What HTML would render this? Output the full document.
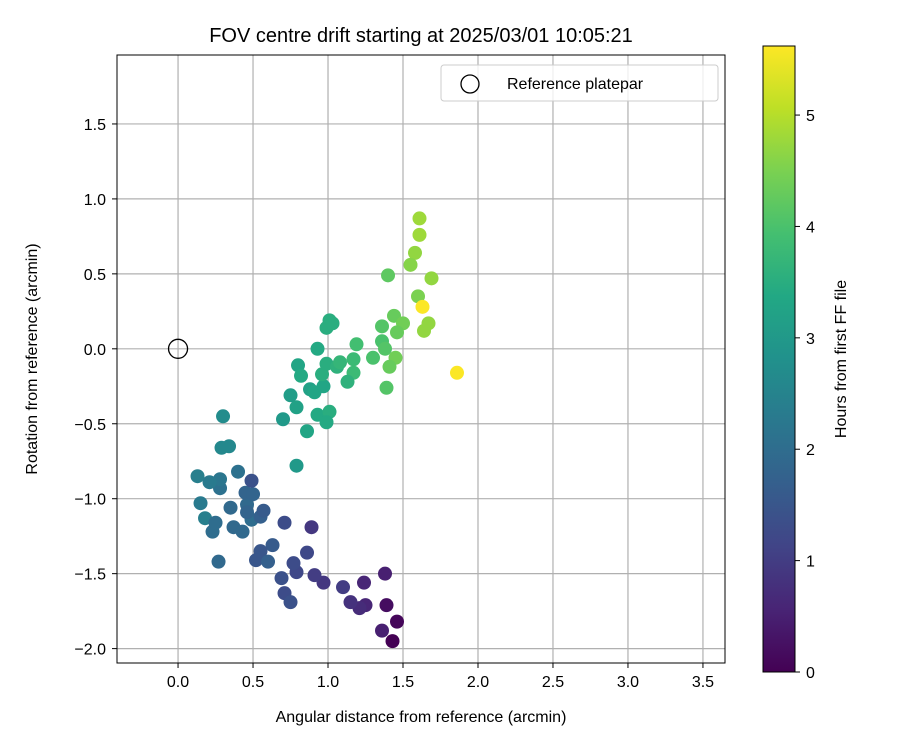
<!DOCTYPE html>
<html><head><meta charset="utf-8"><style>
html,body{margin:0;padding:0;background:#fff}
svg{display:block;font-family:"Liberation Sans","DejaVu Sans",sans-serif}
</style></head><body>
<svg id="c" width="900" height="750" viewBox="0 0 900 750">
<defs>
<linearGradient id="vir" x1="0" y1="1" x2="0" y2="0">
<stop offset="0" stop-color="#440154"/><stop offset="0.1" stop-color="#482475"/><stop offset="0.2" stop-color="#414487"/><stop offset="0.3" stop-color="#355f8d"/><stop offset="0.4" stop-color="#2a788e"/><stop offset="0.5" stop-color="#21918c"/><stop offset="0.6" stop-color="#22a884"/><stop offset="0.7" stop-color="#44bf70"/><stop offset="0.8" stop-color="#7ad151"/><stop offset="0.9" stop-color="#bddf26"/><stop offset="1" stop-color="#fde725"/>
</linearGradient>
</defs>
<text x="421" y="42" text-anchor="middle" font-size="20">FOV centre drift starting at 2025/03/01 10:05:21</text>
<g id="grid"></g>
<g id="pts"></g>
<rect x="117" y="55" width="608" height="608" fill="none" stroke="#000" stroke-width="1"/>
<g id="ticks"></g>
<text x="421" y="722" text-anchor="middle" font-size="16">Angular distance from reference (arcmin)</text>
<text transform="translate(37,359) rotate(-90)" text-anchor="middle" font-size="16">Rotation from reference (arcmin)</text>
<g>
<rect x="441" y="65" width="277" height="36" rx="3" fill="#fff" fill-opacity="0.8" stroke="#ccc"/>
<circle cx="470" cy="84" r="9" fill="none" stroke="#000" stroke-width="1.3"/>
<text x="507" y="89" font-size="16">Reference platepar</text>
</g>
<rect x="763" y="46" width="32" height="626" fill="url(#vir)" stroke="#000" stroke-width="1"/>
<g id="cbt"></g>
<text transform="translate(846,359) rotate(-90)" text-anchor="middle" font-size="16">Hours from first FF file</text>
</svg>
<script>
const xs=[1.43,1.46,1.36,1.39,1.38,1.24,1.25,1.21,1.15,1.10,0.97,0.91,0.79,0.86,0.89,0.71,0.77,0.69,0.71,0.75,0.63,0.55,0.52,0.60,0.27,0.23,0.37,0.43,0.18,0.25,0.49,0.55,0.15,0.35,0.46,0.57,0.46,0.45,0.50,0.49,0.40,0.28,0.28,0.21,0.13,0.29,0.34,0.30,0.79,0.70,0.86,0.79,0.75,0.93,1.01,0.99,0.88,0.91,0.97,0.96,0.80,0.82,0.99,1.06,1.08,1.17,1.17,1.13,0.93,1.01,0.99,1.03,1.19,1.36,1.38,1.30,1.45,1.41,1.39,1.36,1.44,1.50,1.46,1.40,1.61,1.61,1.58,1.55,1.69,1.60,1.63,1.67,1.64,1.86];
const ys=[-1.95,-1.82,-1.88,-1.71,-1.50,-1.56,-1.71,-1.73,-1.69,-1.59,-1.56,-1.51,-1.49,-1.36,-1.19,-1.16,-1.43,-1.53,-1.63,-1.69,-1.31,-1.35,-1.41,-1.42,-1.42,-1.22,-1.19,-1.22,-1.13,-1.16,-1.14,-1.12,-1.03,-1.06,-1.04,-1.08,-1.09,-0.96,-0.97,-0.88,-0.82,-0.93,-0.87,-0.89,-0.85,-0.66,-0.65,-0.45,-0.78,-0.47,-0.55,-0.39,-0.31,-0.44,-0.42,-0.49,-0.27,-0.29,-0.25,-0.17,-0.11,-0.18,-0.10,-0.12,-0.09,-0.07,-0.16,-0.22,0.00,0.19,0.14,0.17,0.03,0.05,0.00,-0.06,-0.06,-0.12,-0.26,0.15,0.22,0.17,0.11,0.49,0.87,0.76,0.64,0.56,0.47,0.35,0.28,0.17,0.12,-0.16];
const hours=[0.0,0.1,0.5,0.2,0.5,0.6,0.6,0.7,0.8,1.0,0.9,1.0,1.2,1.2,0.9,1.3,1.3,1.4,1.3,1.4,1.6,1.5,1.5,1.7,1.9,2.0,1.9,1.9,2.4,2.0,2.0,1.7,2.3,1.9,1.9,1.6,1.8,1.8,1.8,1.4,2.1,2.1,2.2,2.3,2.4,2.6,2.6,2.7,3.0,3.0,3.3,3.2,3.1,3.4,3.5,3.4,3.2,3.3,3.3,3.5,3.3,3.4,3.5,3.6,3.7,3.8,3.8,3.6,3.4,3.5,3.5,3.5,3.9,4.0,4.1,4.0,4.4,4.3,4.1,4.1,4.3,4.4,4.3,4.2,4.8,4.8,4.7,4.6,4.7,4.5,5.6,4.7,4.7,5.6];
const xTicks=[0.0,0.5,1.0,1.5,2.0,2.5,3.0,3.5];
const yTicks=[-2.0,-1.5,-1.0,-0.5,0.0,0.5,1.0,1.5];
const cTicks=[0,1,2,3,4,5];
const refPoint=[0,0];
const X0=117,X1=725,Y0=55,Y1=663,xmin=-0.407,xmax=3.647,ymin=-2.096,ymax=1.96;
const cmax=5.62;
const sx=v=>X0+(v-xmin)/(xmax-xmin)*(X1-X0);
const sy=v=>Y1-(v-ymin)/(ymax-ymin)*(Y1-Y0);
const sc=v=>672-v/cmax*626;
const NS="http://www.w3.org/2000/svg";
function mk(t,a,p){const e=document.createElementNS(NS,t);for(const k in a)e.setAttribute(k,a[k]);p.appendChild(e);return e;}
const stops=[[68,1,84],[72,36,117],[65,68,135],[53,95,141],[42,120,142],[33,145,140],[34,168,132],[68,191,112],[122,209,81],[189,223,38],[253,231,37]];
function vir(t){t=Math.max(0,Math.min(1,t))*10;const i=Math.min(9,Math.floor(t)),f=t-i;const a=stops[i],b=stops[i+1];return `rgb(${a.map((v,k)=>Math.round(v+(b[k]-v)*f)).join(',')})`;}
const grid=document.getElementById('grid'),tk=document.getElementById('ticks'),pts=document.getElementById('pts'),cbt=document.getElementById('cbt');
xTicks.forEach(v=>{const x=sx(v);
const g=mk('line',{x1:x,x2:x,y1:Y0,y2:Y1,stroke:'#b0b0b0','stroke-width':1.2},grid);


mk('line',{x1:x,x2:x,y1:Y1,y2:Y1+5,stroke:'#000'},tk);
const t=mk('text',{x:x,y:Y1+24,'text-anchor':'middle','font-size':16},tk);t.textContent=v.toFixed(1);

});
yTicks.forEach(v=>{const y=sy(v);
const g=mk('line',{x1:X0,x2:X1,y1:y,y2:y,stroke:'#b0b0b0','stroke-width':1.2},grid);


mk('line',{x1:X0-5,x2:X0,y1:y,y2:y,stroke:'#000'},tk);
const t=mk('text',{x:X0-11,y:y+6,'text-anchor':'end','font-size':16},tk);t.textContent=(v<0?'\u2212':'')+Math.abs(v).toFixed(1);

});
hours.forEach((h,i)=>{const c=mk('circle',{cx:sx(xs[i]),cy:sy(ys[i]),r:7,fill:vir(h/cmax)},pts);

});
const rc=mk('circle',{cx:sx(refPoint[0]),cy:sy(refPoint[1]),r:9.5,fill:'none',stroke:'#000','stroke-width':1.3},pts);


cTicks.forEach(v=>{const y=sc(v);
mk('line',{x1:795,x2:800,y1:y,y2:y,stroke:'#000'},cbt);
const t=mk('text',{x:806,y:y+6,'font-size':16},cbt);t.textContent=v;

});
</script>
</body></html>
